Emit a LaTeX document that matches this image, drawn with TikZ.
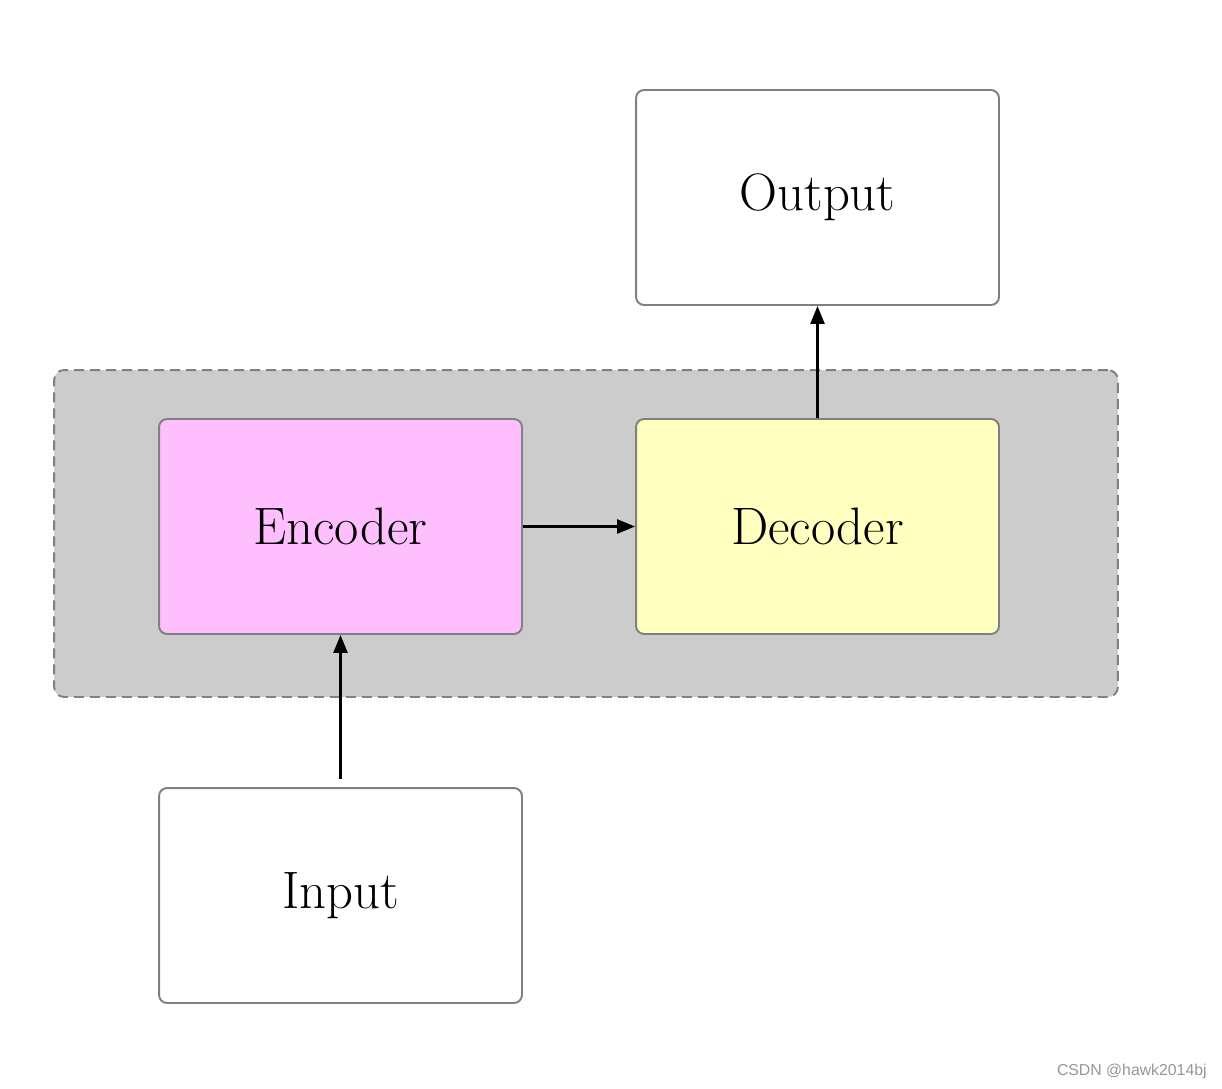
\documentclass[tikz,border=0pt]{standalone}
\usepackage{fontspec}
\newfontfamily\markfont{Liberation Sans}
\usepackage{xcolor}
\definecolor{edgegray}{RGB}{128, 128, 128}
\definecolor{panelgray}{RGB}{204, 204, 204}
\definecolor{encpink}{RGB}{255, 191, 255}
\definecolor{decyellow}{RGB}{255, 255, 192}
\definecolor{markgray}{RGB}{150, 150, 150}
\usetikzlibrary{arrows.meta, positioning}
\tikzset{
  stagebox/.style = {
    rectangle,
    rounded corners=1.6mm,
    draw=edgegray,
    fill=white,
    text=black,
    font=\fontsize{30}{36}\selectfont,
    align=center,
    minimum width=7.26cm,
    minimum height=4.3cm,
    line width=1.1pt
  },
  panelbox/.style = {
    rectangle,
    rounded corners=2mm,
    draw=edgegray,
    fill=panelgray,
    dash pattern=on 2mm off 1.2mm,
    minimum width=21.28cm,
    minimum height=6.54cm,
    line width=1.1pt
  },
  flowarrow/.style = {
    -{Triangle[length=3.6mm, width=2.8mm]},
    line width=1.4pt,
    draw=black
  }
}
\begin{document}
\begin{tikzpicture}[x=0.02cm, y=-0.02cm]
  \useasboundingbox (0,0) rectangle (1222,1088);

  % Model panel
  \node[panelbox] at (586,533.5) (model) {};

  % Blocks
  \node[stagebox, fill=encpink] at (340.5,526.5) (encoder) {Encoder};
  \node[stagebox, fill=decyellow] at (817.5,526.5) (decoder) {Decoder};
  \node[stagebox] at (817.5,197.5) (output) {Output};
  \node[stagebox] at (340.5,895.5) (input) {Input};

  % Connections
  \draw[flowarrow, shorten <=1.6mm] (input) -- (encoder);
  \draw[flowarrow] (encoder) -- (decoder);
  \draw[flowarrow] (decoder) -- (output);

  % Watermark
  \node[anchor=east, inner sep=0pt, font=\markfont\fontsize{9}{11}\selectfont, text=markgray] at (1207,1071) (mark) {CSDN @hawk2014bj};
\end{tikzpicture}
\end{document}
